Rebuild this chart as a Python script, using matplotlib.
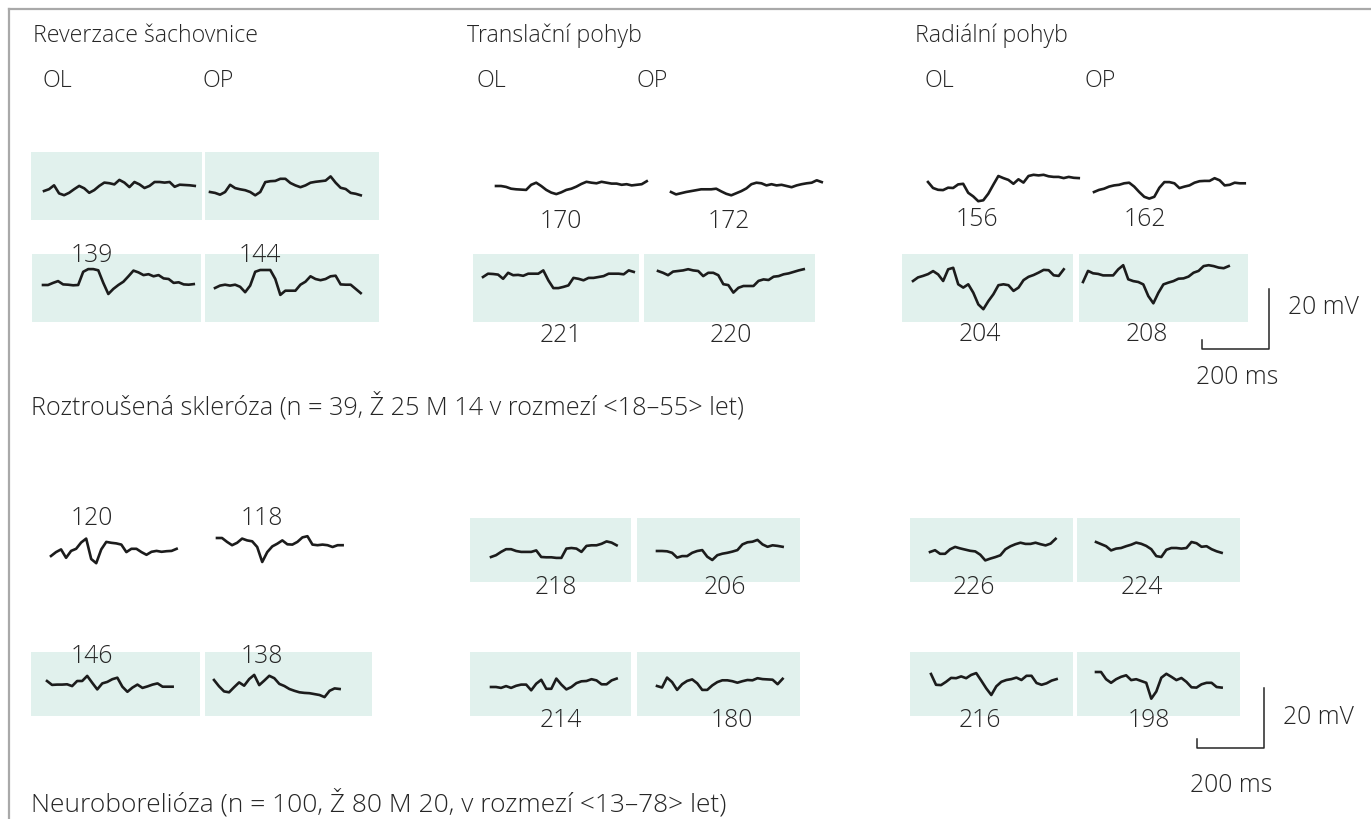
import numpy as np
import matplotlib.pyplot as plt
from matplotlib.lines import Line2D

W, H = 1371, 820
PX_MS = 67 / 200      # pixels per ms (from the 200 ms scale bar)
PX_MV = 60 / 20       # pixels per mV (from the 20 mV scale bar)
STEP_MS = 15
SCALE_MS, SCALE_MV = 200, 20

# --- VEP traces (mV, relative to first sample), step STEP_MS ---
# Roztrousena skleroza
rs_rev_1_ol = [0, 0.6, 1.9, -0.8, -1.4, -0.6, 0.6, 1.7, 0.9, -0.6, 0.3, 1.7, 2.8, 2.6, 2.2, 3.7,
               2.8, 1.3, 3.0, 2.2, 1.0, 1.7, 3.0, 3.0, 2.8, 3.0, 1.4, 2.1, 2.0, 1.9, 1.7]
rs_rev_1_op = [0, -0.3, -0.9, 0, 2.4, 1.3, 0.9, 0.6, 0, -1.1, 0, 3.3, 3.6, 3.7, 4.4, 4.4,
               3.0, 2.2, 1.6, 2.2, 3.1, 3.4, 3.6, 3.8, 5.2, 3.1, 1.4, 1.0, -0.3, -0.6, -1.1]
rs_rev_2_ol = [0, 0, 0.7, 1.3, 0.2, 0.1, -0.1, 0, 4.4, 5.3, 5.3, 4.9, 0.7, -3.0, -1.3, 0,
               1.1, 2.9, 4.8, 4.2, 3.3, 3.6, 2.9, 3.3, 2.2, 2.0, 0.7, 0.9, 0.2, 0.1, 0.3]
rs_rev_2_op = [0, 0.8, 1.1, 0.8, 1.1, 0.4, -1.4, 0.8, 5.4, 6.0, 6.0, 6.0, 3.0, -2.3, -0.9, -0.9,
               -0.9, 1.1, 2.1, 3.9, 3.0, 2.6, 3.0, 3.9, 4.1, 1.2, 1.1, 1.1, -0.3, -1.7]
rs_trans_1_ol = [0, 0, -0.3, -0.9, -1.1, -1.2, -1.3, 0.4, 1.1, 0, -1.3, -2.2, -2.7, -2.1, -1.3, -0.9,
                 -0.2, 0.7, 1.4, 1.1, 0.9, 1.4, 1.1, 0.8, 0.8, 0.4, 0.6, 0.2, 0.4, 0.6, 1.6]
rs_trans_1_op = [0, -0.8, -0.4, 0, 0.3, 0.6, 0.9, 0.9, 0.9, 1.1, 0.2, -0.6, -1.1, -0.4, 0.3, 1.2,
                 2.6, 3.1, 2.9, 2.2, 2.6, 2.2, 2.4, 2.0, 1.6, 2.2, 2.6, 2.9, 3.1, 3.9, 3.3]
rs_trans_2_ol = [0, 1.1, 1.0, 0.8, -0.6, 1.4, 0.6, 0.7, 0.4, 1.1, 1.1, 1.1, 2.2, -1.1, -3.7, -3.7,
                 -3.3, -2.8, -0.3, -0.6, -1.1, -0.3, -0.3, 0, 0.3, 1.1, 1.1, 1.1, 0.9, 2.2, 1.7]
rs_trans_2_op = [0, -0.6, -1.4, -0.2, 0, 0.2, 0.6, 0.2, 0, -1.7, -0.6, -0.6, -1.4, -4.4, -4.7, -7.2,
                 -5.6, -5.0, -5.0, -5.0, -3.3, -2.8, -3.0, -1.9, -1.7, -1.1, -0.8, -0.3, 0.2, 0.6]
rs_rad_1_ol = [0, -2.0, -2.6, -2.7, -1.9, -2.0, -0.8, -0.6, -3.6, -4.8, -6.4, -6.1, -3.9, -0.9, 2.0, 1.3,
               0.7, -0.6, 0.9, -0.2, 2.0, 2.4, 2.2, 2.4, 1.9, 1.7, 1.7, 1.3, 1.7, 1.4, 1.3]
rs_rad_1_op = [0, 0.7, 1.1, 1.8, 2.2, 2.4, 2.9, 3.1, 1.8, 0, -1.6, -2.2, -1.6, 1.4, 3.3, 3.3,
               2.9, 1.3, 1.8, 2.2, 3.1, 3.6, 3.7, 3.7, 4.6, 3.9, 2.2, 2.4, 3.1, 2.9, 2.9]
rs_rad_2_ol = [0, 1.2, 1.7, 2.3, 3.3, 2.2, 0, 3.9, 4.4, -1.1, -2.2, -1.1, -3.9, -7.8, -9.4, -6.7,
               -4.4, -1.4, -1.1, -1.4, -3.3, -2.2, 0.3, 1.4, 2.0, 2.8, 3.7, 3.6, 1.9, 1.7, 3.9]
rs_rad_2_op = [0, 3.7, 2.9, 2.7, 2.2, 2.2, 2.2, 4.2, 5.6, 0.9, 0.3, 0, -0.8, -4.7, -7.1, -3.6,
               -0.8, -0.2, 0.3, 1.1, 1.2, 1.8, 3.1, 3.7, 5.3, 5.6, 5.3, 4.8, 4.6, 5.3]

# Neuroborelioza
nb_rev_1_ol = [0, 1.3, 2.2, -0.6, 1.7, 2.4, 4.5, 5.8, -1.0, -2.4, 2.2, 4.7, 4.4, 4.2, 3.8, 1.3,
               2.4, 2.4, 1.3, 0.4, 1.4, 1.7, 1.4, 1.6, 1.7, 2.4]
nb_rev_1_op = [0, 0, -1.3, -2.4, -1.6, -0.2, -0.8, -1.1, -3.0, -8.0, -4.7, -2.8, -1.9, -0.8, -2.1, -2.2,
               -1.3, 0.2, 0.6, -2.2, -2.4, -2.2, -2.4, -3.0, -2.4, -2.4]
nb_rev_2_ol = [0, -1.3, -1.2, -1.2, -1.1, -1.7, 0, 0, 1.7, -0.6, -2.8, -0.8, -0.3, 0.6, 1.1, -1.9,
               -3.6, -2.2, -1.2, -2.3, -1.8, -1.2, -0.8, -1.9, -1.9, -1.9]
nb_rev_2_op = [0, -2.1, -3.8, -4.1, -2.4, -0.8, -1.9, 0.3, 1.7, -1.7, -0.2, 1.4, 0.6, -1.3, -2.0, -3.0,
               -3.6, -4.1, -4.3, -4.4, -4.7, -5.0, -5.7, -3.6, -2.8, -3.0]
nb_trans_1_ol = [0, 0.6, 1.7, 2.6, 2.6, 2.0, 1.7, 1.7, 1.7, 2.2, 0, -0.1, -0.1, -0.3, -0.3, 2.8,
                 3.0, 2.8, 1.7, 3.7, 3.9, 3.9, 4.4, 5.2, 4.8, 3.9]
nb_trans_1_op = [0, 0, -0.1, -0.6, -2.2, -1.7, -1.7, -0.6, 0, 0.3, -1.9, -3.0, -1.4, -0.9, -0.6, -0.2,
                 0.3, 2.2, 2.9, 3.1, 3.7, 2.2, 1.4, 1.9, 1.7, 1.4]
nb_trans_2_ol = [0, 0, -0.3, 0.3, -0.3, 0.4, 0.8, 0.8, -1.1, 1.1, 2.4, -0.6, -0.6, 2.8, 0.8, -0.8,
                 0, 1.3, 1.9, 2.0, 2.6, 2.2, 0.9, 0.9, 2.2, 2.8]
nb_trans_2_op = [0, -0.5, 2.8, 1.3, -1.3, 0.6, 1.7, 2.2, 0.9, -1.3, -1.3, 0.2, 1.3, 1.9, 1.9, 1.6,
                 1.1, 1.6, 2.0, 1.9, 2.6, 2.3, 2.2, 2.1, 0.6, 2.4]
nb_rad_1_ol = [0, 0.6, -0.6, -0.6, 0.9, 1.7, 1.2, 0.8, 0.4, 0.2, -0.9, -2.8, -2.2, -1.7, -1.1, 0.9,
               1.9, 2.6, 3.1, 2.7, 2.7, 3.1, 2.6, 2.2, 2.8, 4.4]
nb_rad_1_op = [0, -0.7, -1.4, -2.8, -2.2, -2.0, -1.4, -0.9, -0.2, -0.6, -1.3, -2.4, -4.7, -5.0, -2.6, -2.0,
               -2.0, -2.2, -2.0, 0, -0.4, -1.6, -1.4, -2.4, -3.1, -3.6]
nb_rad_2_ol = [0, -3.6, -3.7, -2.6, -1.3, -1.4, -0.8, -1.4, -0.3, 0.3, -2.2, -4.8, -7.0, -4.1, -2.6, -2.0,
               -1.7, -1.2, -2.0, -0.6, -0.6, -3.0, -3.6, -3.1, -2.2, -1.7]
nb_rad_2_op = [0, 0, -2.4, -3.6, -2.4, -1.6, -1.1, -2.7, -2.4, -3.0, -3.6, -8.9, -6.5, -1.9, -0.6, -1.6,
               -2.7, -2.0, -3.3, -5.1, -5.2, -4.1, -3.6, -3.6, -5.0, -5.2]

# latencies (ms) printed next to each trace
rs_latencies = ["139", "144", "170", "172", "221", "220", "156", "162", "204", "208"]
nb_latencies = ["120", "118", "146", "138", "218", "206", "214", "180", "226", "224", "216", "198"]

stimuli = ["Reverzace šachovnice", "Translační pohyb", "Radiální pohyb"]
eyes = ["OL", "OP"]
rs_caption = "Roztroušená skleróza (n = 39, Ž 25 M 14 v rozmezí <18–55> let)"
nb_caption = "Neuroborelióza (n = 100, Ž 80 M 20, v rozmezí <13–78> let)"

# --- layout: (box x, y, w, h), (trace start x, baseline y), shaded ---
panels = [
    (rs_rev_1_ol, (31, 153, 171, 68), (44, 192), True),
    (rs_rev_1_op, (205, 153, 174, 68), (210, 193), True),
    (rs_rev_2_ol, (32, 255, 169, 68), (43, 286), True),
    (rs_rev_2_op, (205, 255, 174, 68), (215, 289), True),
    (rs_trans_1_ol, (473, 155, 166, 68), (496, 187), False),
    (rs_trans_1_op, (644, 155, 171, 68), (671, 193), False),
    (rs_trans_2_ol, (473, 255, 166, 68), (483, 278), True),
    (rs_trans_2_op, (644, 255, 171, 68), (658, 272), True),
    (rs_rad_1_ol, (902, 150, 171, 68), (928, 183), False),
    (rs_rad_1_op, (1079, 150, 169, 68), (1094, 193), False),
    (rs_rad_2_ol, (902, 255, 171, 68), (913, 282), True),
    (rs_rad_2_op, (1079, 255, 169, 68), (1083, 283), True),
    (nb_rev_1_ol, (31, 515, 169, 64), (51, 557), False),
    (nb_rev_1_op, (205, 515, 167, 64), (217, 539), False),
    (nb_rev_2_ol, (31, 653, 169, 64), (47, 682), True),
    (nb_rev_2_op, (205, 653, 167, 64), (214, 681), True),
    (nb_trans_1_ol, (470, 519, 161, 64), (491, 558), True),
    (nb_trans_1_op, (637, 519, 163, 64), (657, 552), True),
    (nb_trans_2_ol, (470, 653, 161, 64), (491, 688), True),
    (nb_trans_2_op, (637, 653, 163, 64), (657, 687), True),
    (nb_rad_1_ol, (910, 519, 163, 64), (930, 553), True),
    (nb_rad_1_op, (1077, 519, 163, 64), (1096, 543), True),
    (nb_rad_2_ol, (910, 653, 163, 64), (931, 675), True),
    (nb_rad_2_op, (1077, 653, 163, 64), (1096, 673), True),
]
rs_latency_pos = [(92, 256), (260, 256), (561, 222), (729, 222), (561, 336), (731, 336),
                  (977, 219), (1145, 219), (980, 335), (1147, 335)]
nb_latency_pos = [(92, 519), (262, 519), (92, 657), (262, 657), (556, 588), (725, 588),
                  (561, 721), (732, 721), (974, 588), (1142, 588), (980, 721), (1149, 721)]
header_x = [33, 467, 915]

BOX = '#e1f1ed'
INK = '#1c1c1c'
TXT = '#262626'
FONT = ['Open Sans', 'DejaVu Sans']
FS_HEAD = 16.7
FS = 17.8

plt.rcParams['font.family'] = FONT

fig = plt.figure(figsize=(W / 100, H / 100), dpi=100, facecolor='white')


def px_axes(x0, y0, w, h):
    ax = fig.add_axes([x0 / W, 1 - (y0 + h) / H, w / W, h / H])
    ax.set_xticks([])
    ax.set_yticks([])
    for s in ax.spines.values():
        s.set_visible(False)
    return ax


def draw_panel(values, box, anchor, shaded):
    x0, y0, w, h = box
    xs, yb = anchor
    ax = px_axes(x0, y0, w, h)
    ax.set_facecolor(BOX if shaded else 'none')
    t = np.arange(len(values)) * STEP_MS
    ax.plot(t, values, color=INK, lw=1.9, solid_joinstyle='round', clip_on=False)
    left = -(xs - x0) / PX_MS
    bottom = -(y0 + h - yb) / PX_MV
    ax.set_xlim(left, left + w / PX_MS)
    ax.set_ylim(bottom, bottom + h / PX_MV)


def draw_scale_bar(corner, tick_mv=3):
    cx, cy = corner
    ax = px_axes(cx - 10, cy - 72, 90, 82)
    ax.set_facecolor('none')
    ax.plot([0, 0, SCALE_MS, SCALE_MS], [tick_mv, 0, 0, SCALE_MV], color=TXT, lw=1.1,
            clip_on=False)
    ax.set_xlim(-10 / PX_MS, 80 / PX_MS)
    ax.set_ylim(-10 / PX_MV, 72 / PX_MV)


for values, box, anchor, shaded in panels:
    draw_panel(values, box, anchor, shaded)

draw_scale_bar((1202, 350))
draw_scale_bar((1197, 749))

# overlay in pixel coordinates for all text
ov = fig.add_axes([0, 0, 1, 1])
ov.set_xlim(0, W)
ov.set_ylim(H, 0)
ov.axis('off')
ov.patch.set_alpha(0)

head = dict(color=TXT, fontsize=FS_HEAD, fontweight='light')
kw = dict(color=TXT, fontsize=FS, fontweight='light')
for label, x in zip(stimuli, header_x):
    ov.text(x, 36, label, ha='left', va='center', **head)
    ov.text(x + 9, 81, eyes[0], ha='left', va='center', **head)
    ov.text(x + 170, 81, eyes[1], ha='left', va='center', **head)

for lab, (x, y) in zip(rs_latencies, rs_latency_pos):
    ov.text(x, y, lab, ha='center', va='center', **kw)
for lab, (x, y) in zip(nb_latencies, nb_latency_pos):
    ov.text(x, y, lab, ha='center', va='center', **kw)

ov.text(1288, 308, f"{SCALE_MV} mV", ha='left', va='center', **kw)
ov.text(1237, 378, f"{SCALE_MS} ms", ha='center', va='center', **kw)
ov.text(1283, 718, f"{SCALE_MV} mV", ha='left', va='center', **kw)
ov.text(1231, 786, f"{SCALE_MS} ms", ha='center', va='center', **kw)

ov.text(31, 406, rs_caption, ha='left', va='center', color=TXT, fontsize=18.2, fontweight='light')
ov.text(31, 803, nb_caption, ha='left', va='center', color=TXT, fontsize=19.0, fontweight='light')

# light grey frame on left and top
fig.add_artist(Line2D([9 / W, 9 / W], [0, 1 - 10 / H], color='#a9a9a9', lw=1.6))
fig.add_artist(Line2D([9 / W, 1], [1 - 10 / H, 1 - 10 / H], color='#a9a9a9', lw=1.6))

fig.savefig('out.png', dpi=100, facecolor='white')
